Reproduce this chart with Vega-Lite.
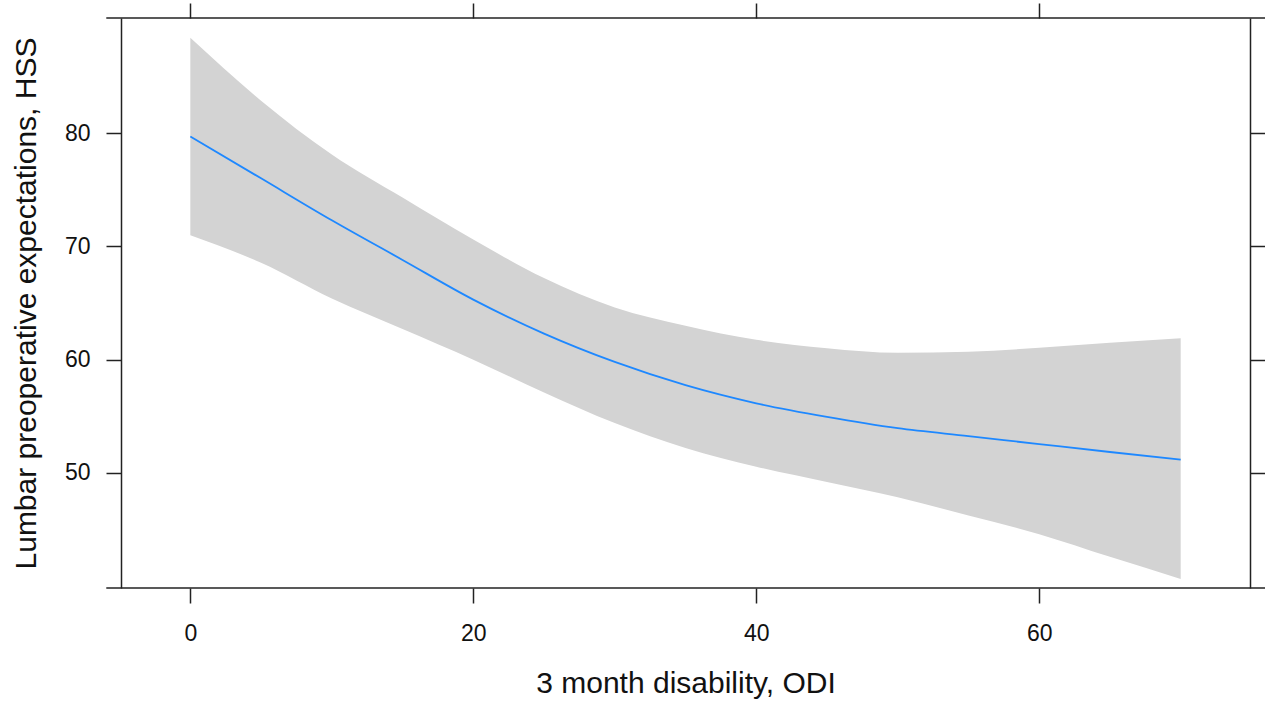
{
  "$schema": "https://vega.github.io/schema/vega-lite/v6.json",
  "width": 1129,
  "height": 570,
  "autosize": {"type": "none"},
  "padding": {"left": 121, "top": 18, "right": 15, "bottom": 121},
  "background": "white",
  "config": {
    "view": {"stroke": null},
    "font": "Liberation Sans",
    "axis": {
      "domainColor": "#222222",
      "domainWidth": 1.5,
      "tickColor": "#222222",
      "tickWidth": 1.5,
      "tickSize": 15,
      "grid": false,
      "labelFont": "Liberation Sans",
      "labelFontSize": 23,
      "labelColor": "#111111",
      "titleFont": "Liberation Sans",
      "titleFontSize": 30,
      "titleFontWeight": "normal",
      "titleColor": "#111111"
    }
  },
  "data": {
    "values": [
      {"odi": 0, "fit": 79.7, "lower": 70.97, "upper": 88.4},
      {"odi": 5, "fit": 76.0, "lower": 68.55, "upper": 82.85},
      {"odi": 10, "fit": 72.3, "lower": 65.4, "upper": 78.1},
      {"odi": 15, "fit": 68.8, "lower": 62.7, "upper": 74.3},
      {"odi": 20, "fit": 65.3, "lower": 60.0, "upper": 70.6},
      {"odi": 25, "fit": 62.3, "lower": 57.1, "upper": 67.2},
      {"odi": 30, "fit": 59.8, "lower": 54.4, "upper": 64.6},
      {"odi": 35, "fit": 57.75, "lower": 52.2, "upper": 63.0},
      {"odi": 40, "fit": 56.15, "lower": 50.55, "upper": 61.75},
      {"odi": 45, "fit": 54.95, "lower": 49.2, "upper": 61.0},
      {"odi": 50, "fit": 53.95, "lower": 47.85, "upper": 60.6},
      {"odi": 55, "fit": 53.25, "lower": 46.25, "upper": 60.7},
      {"odi": 60, "fit": 52.55, "lower": 44.6, "upper": 61.05},
      {"odi": 65, "fit": 51.85, "lower": 42.6, "upper": 61.5},
      {"odi": 70, "fit": 51.17, "lower": 40.65, "upper": 61.9}
    ]
  },
  "layer": [
    {
      "mark": {"type": "area", "fill": "#d3d3d3", "opacity": 1, "interpolate": "monotone"},
      "encoding": {
        "x": {
          "field": "odi",
          "type": "quantitative",
          "scale": {"domain": [-4.9, 74.9], "nice": false, "zero": false},
          "axis": {
            "orient": "bottom",
            "values": [0, 20, 40, 60],
            "domain": false,
            "labelPadding": 19,
            "title": "3 month disability, ODI",
            "titleBaseline": "alphabetic",
            "titleY": 104
          }
        },
        "y": {
          "field": "lower",
          "type": "quantitative",
          "scale": {"domain": [39.85, 90.15], "nice": false, "zero": false},
          "axis": {
            "orient": "left",
            "values": [50, 60, 70, 80],
            "labelPadding": 16,
            "title": "Lumbar preoperative expectations, HSS",
            "titleBaseline": "alphabetic",
            "titleX": -86
          }
        },
        "y2": {"field": "upper"}
      }
    },
    {
      "mark": {"type": "line", "color": "#1e88ff", "strokeWidth": 1.8, "interpolate": "monotone"},
      "encoding": {
        "x": {
          "field": "odi",
          "type": "quantitative",
          "axis": {"orient": "top", "values": [0, 20, 40, 60], "labels": false, "domain": false, "title": null}
        },
        "y": {
          "field": "fit",
          "type": "quantitative",
          "axis": {"orient": "right", "values": [50, 60, 70, 80], "labels": false, "title": null}
        }
      }
    },
    {
      "data": {"values": [{}]},
      "mark": {"type": "rule", "color": "#222222", "strokeWidth": 1.5},
      "encoding": {
        "x": {"datum": -5.94, "type": "quantitative", "axis": null},
        "x2": {"datum": 75.96},
        "y": {"datum": 90.15, "type": "quantitative", "axis": null}
      }
    },
    {
      "data": {"values": [{}]},
      "mark": {"type": "rule", "color": "#222222", "strokeWidth": 1.5},
      "encoding": {
        "x": {"datum": -5.94, "type": "quantitative", "axis": null},
        "x2": {"datum": 75.96},
        "y": {"datum": 39.85, "type": "quantitative", "axis": null}
      }
    }
  ],
  "resolve": {"axis": {"x": "independent", "y": "independent"}}
}
